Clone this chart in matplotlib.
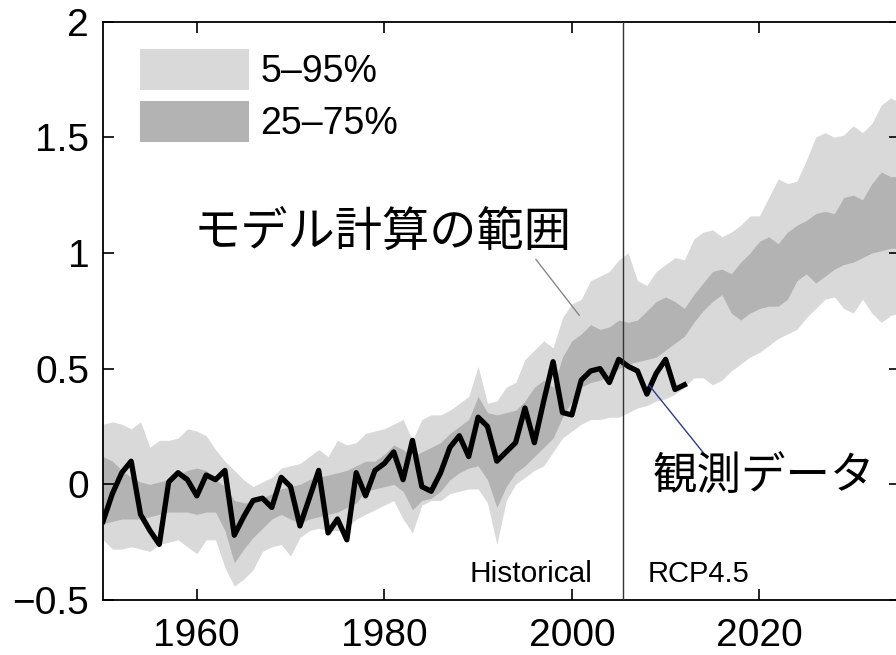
import matplotlib
matplotlib.use("Agg")
import matplotlib.pyplot as plt
import numpy as np

plt.rcParams["font.family"] = ["Liberation Sans", "Noto Sans CJK JP", "DejaVu Sans"]

# model spread (CMIP5 historical + RCP4.5), annual, 1950-2035
years = np.arange(1950, 2036)
p95 = [0.26, 0.27, 0.26, 0.24, 0.27, 0.16, 0.19, 0.19, 0.20, 0.24,
       0.23, 0.21, 0.15, 0.10, 0.06, 0.02, -0.01, 0.01, 0.03, 0.07,
       0.08, 0.09, 0.12, 0.15, 0.12, 0.19, 0.17, 0.18, 0.22, 0.23,
       0.24, 0.26, 0.28, 0.19, 0.28, 0.30, 0.30, 0.32, 0.35, 0.38,
       0.51, 0.35, 0.36, 0.42, 0.44, 0.54, 0.58, 0.62, 0.59, 0.72,
       0.78, 0.80, 0.88, 0.90, 0.92, 0.97, 1.00, 0.88, 0.86, 0.92,
       0.95, 0.98, 0.97, 1.06, 1.09, 1.10, 1.07, 1.09, 1.12, 1.16,
       1.16, 1.24, 1.32, 1.30, 1.31, 1.40, 1.50, 1.52, 1.50, 1.51,
       1.55, 1.52, 1.56, 1.64, 1.67, 1.65]
p75 = [0.12, 0.10, 0.06, 0.03, 0.01, 0.00, 0.01, 0.02, 0.04, 0.06,
       0.07, 0.06, 0.02, -0.01, -0.07, -0.08, -0.08, -0.06, -0.04, -0.02,
       -0.01, 0.00, 0.02, 0.03, 0.04, 0.05, 0.06, 0.08, 0.10, 0.10,
       0.13, 0.17, 0.15, 0.12, 0.14, 0.16, 0.18, 0.22, 0.25, 0.28,
       0.38, 0.31, 0.30, 0.31, 0.32, 0.36, 0.42, 0.45, 0.42, 0.55,
       0.62, 0.65, 0.69, 0.67, 0.68, 0.71, 0.70, 0.71, 0.75, 0.79,
       0.81, 0.79, 0.76, 0.82, 0.87, 0.92, 0.93, 0.91, 0.96, 1.00,
       1.05, 1.07, 1.04, 1.09, 1.12, 1.14, 1.17, 1.18, 1.17, 1.24,
       1.25, 1.23, 1.30, 1.35, 1.33, 1.33]
p25 = [-0.17, -0.16, -0.15, -0.15, -0.15, -0.14, -0.13, -0.12, -0.12, -0.12,
       -0.13, -0.12, -0.12, -0.20, -0.34, -0.28, -0.23, -0.19, -0.15, -0.13,
       -0.15, -0.17, -0.15, -0.14, -0.13, -0.12, -0.10, -0.08, -0.03, -0.02,
       -0.01, 0.00, -0.03, -0.11, -0.07, -0.06, -0.03, 0.02, 0.05, 0.07,
       0.08, 0.02, -0.10, -0.01, 0.05, 0.08, 0.12, 0.16, 0.20, 0.29,
       0.36, 0.42, 0.44, 0.45, 0.47, 0.50, 0.52, 0.53, 0.54, 0.55,
       0.58, 0.61, 0.64, 0.70, 0.75, 0.79, 0.82, 0.74, 0.71, 0.74,
       0.76, 0.77, 0.77, 0.80, 0.88, 0.91, 0.87, 0.90, 0.93, 0.95,
       0.96, 0.98, 1.00, 1.01, 1.02, 1.02]
p5 = [-0.24, -0.28, -0.28, -0.27, -0.28, -0.29, -0.26, -0.25, -0.24, -0.27,
      -0.30, -0.24, -0.24, -0.36, -0.44, -0.41, -0.37, -0.29, -0.27, -0.26,
      -0.31, -0.23, -0.20, -0.19, -0.20, -0.20, -0.19, -0.15, -0.13, -0.11,
      -0.09, -0.07, -0.15, -0.21, -0.09, -0.07, -0.07, -0.04, -0.03, -0.02,
      -0.02, -0.08, -0.26, -0.07, 0.00, 0.03, 0.06, 0.08, 0.14, 0.20,
      0.23, 0.26, 0.28, 0.28, 0.29, 0.29, 0.31, 0.33, 0.34, 0.36,
      0.37, 0.39, 0.42, 0.46, 0.46, 0.43, 0.45, 0.49, 0.52, 0.55,
      0.57, 0.60, 0.63, 0.65, 0.67, 0.72, 0.76, 0.80, 0.81, 0.76,
      0.74, 0.80, 0.74, 0.70, 0.73, 0.74]

# observations, 1950-2012
obs_years = np.arange(1950, 2013)
obs = [-0.16, -0.04, 0.05, 0.10, -0.13, -0.20, -0.26, 0.01, 0.05, 0.02,
       -0.05, 0.04, 0.02, 0.06, -0.22, -0.14, -0.07, -0.06, -0.10, 0.03,
       -0.01, -0.18, -0.06, 0.06, -0.21, -0.15, -0.24, 0.05, -0.05, 0.06,
       0.09, 0.14, 0.02, 0.19, -0.01, -0.03, 0.05, 0.16, 0.21, 0.12,
       0.29, 0.25, 0.10, 0.14, 0.18, 0.33, 0.18, 0.36, 0.53, 0.31,
       0.30, 0.45, 0.49, 0.50, 0.44, 0.54, 0.51, 0.49, 0.39, 0.48,
       0.54, 0.41, 0.43]

split_year = 2005.5
xticks = [1960, 1980, 2000, 2020]
yticks = [-0.5, 0, 0.5, 1, 1.5, 2]
ytick_labels = ["\u22120.5", "0", "0.5", "1", "1.5", "2"]

LIGHT, DARK = "#d9d9d9", "#b3b3b3"

fig = plt.figure(figsize=(8.96, 6.55), dpi=100)
ax = fig.add_axes([0.115, 0.084, 0.8895, 0.883])

ax.fill_between(years, p5, p95, color=LIGHT, lw=0, label="5\u201395%")
ax.fill_between(years, p25, p75, color=DARK, lw=0, label="25\u201375%")
ax.plot(obs_years, obs, color="black", lw=3.8, solid_joinstyle="round", zorder=3)
ax.axvline(split_year, color="#333333", lw=1.0, zorder=4)

ax.set_xlim(1950, 2035)
ax.set_ylim(-0.5, 2)
ax.set_xticks(xticks)
ax.set_yticks(yticks)
ax.set_yticklabels(ytick_labels)
ax.tick_params(direction="in", length=8, width=1.2, top=True, right=True,
               labelsize=28, pad=10)
ax.tick_params(axis="x", pad=13)
for s in ax.spines.values():
    s.set_linewidth(1.3)

leg = ax.legend(loc="upper left", bbox_to_anchor=(0.047, 0.953), frameon=False,
                fontsize=27, handlelength=2.9, handleheight=1.3,
                labelspacing=0.3, handletextpad=0.3, borderpad=0, borderaxespad=0)

ax.text(2002.2, -0.423, "Historical", fontsize=21.5, ha="right", va="baseline")
ax.text(2008.1, -0.423, "RCP4.5", fontsize=21, ha="left", va="baseline")

ax.annotate("モデル計算の範囲", xy=(2000.8, 0.73), xytext=(1979.8, 1.08),
            fontsize=34, ha="center", va="center",
            arrowprops=dict(arrowstyle="-", color="#888888", lw=1.0,
                            shrinkA=0, shrinkB=0, relpos=(0.9, 0.0)))
ax.annotate("観測データ", xy=(2008.2, 0.43), xytext=(2020.5, 0.03),
            fontsize=32, ha="center", va="center",
            arrowprops=dict(arrowstyle="-", color="#2b3d8c", lw=1.0,
                            shrinkA=0, shrinkB=0, relpos=(0.24, 1.0)))

fig.savefig("out.png", dpi=100)
